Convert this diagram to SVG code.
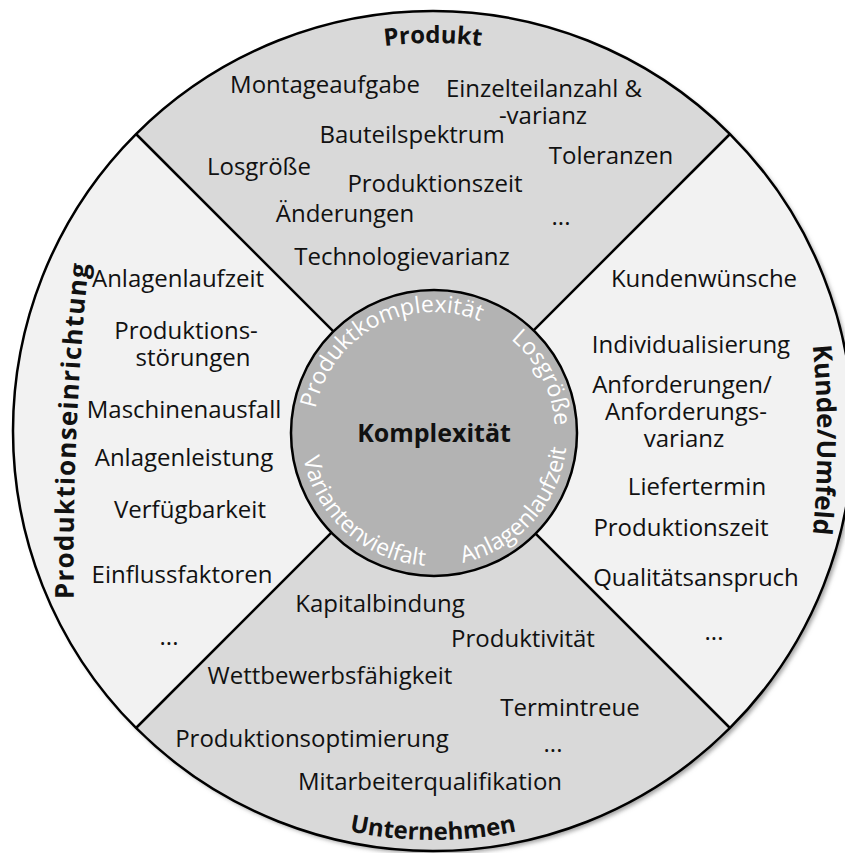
<svg xmlns="http://www.w3.org/2000/svg" width="845" height="853" viewBox="0 0 845 853">
  <style>
    .item { font-family: "Open Sans", "Noto Sans", sans-serif; font-size: 24px; fill: #111; text-anchor: middle; }
    .cat { font-family: "Open Sans", "Noto Sans", sans-serif; font-weight: 700; fill: #111; }
    .hub { font-family: "Open Sans", "Noto Sans", sans-serif; font-size: 23px; fill: #fff; }
    .divider { stroke: #000; stroke-width: 2.5; fill: none; }
  </style>
  <defs>
    <filter id="shadow" x="-5%" y="-5%" width="110%" height="110%">
      <feDropShadow dx="3" dy="3" stdDeviation="2" flood-color="#7a7a7a" flood-opacity="0.7"/>
    </filter>
    <!-- arcs carrying the curved labels -->
    <path id="arcProdukt" d="M238.5,95.1 A389,389 0 0 1 627.5,95.1"/>
    <path id="arcUnternehmen" d="M229,785.3 A408,408 0 0 0 637,785.3"/>
    <path id="arcLeft" d="M74,612 A3000,3000 0 0 1 90,250"/>
    <path id="arcRight" d="M800,255 A1000,1000 0 0 1 800,625"/>
    <path id="arcHub1" d="M318.9,470.4 A121,121 0 0 1 529.3,358.5"/>
    <path id="arcHub2" d="M481.3,321.6 A121,121 0 0 1 551.9,460.2"/>
    <path id="arcHub3" d="M406.3,563.1 A133,133 0 0 0 560.5,391.9"/>
    <path id="arcHub4" d="M303.7,406.5 A133,133 0 0 0 476.2,559.1"/>
  </defs>

  <!-- outer disc -->
  <circle cx="433" cy="431" r="420" fill="#f2f2f2" filter="url(#shadow)"/>

  <g id="produkt">
    <path d="M433,431 L136,134 A420,420 0 0 1 730,134 Z" fill="#d9d9d9"/>
    <text class="cat" font-size="24"><textPath href="#arcProdukt" startOffset="50%" text-anchor="middle">Produkt</textPath></text>
    <text class="item" x="325" y="93">Montageaufgabe</text>
    <text class="item" x="544" y="97">Einzelteilanzahl &amp;</text>
    <text class="item" x="543" y="124">-varianz</text>
    <text class="item" x="412" y="143">Bauteilspektrum</text>
    <text class="item" x="611" y="164">Toleranzen</text>
    <text class="item" x="259" y="175">Losgröße</text>
    <text class="item" x="435" y="192">Produktionszeit</text>
    <text class="item" x="345" y="222">Änderungen</text>
    <text class="item" x="561" y="225">...</text>
    <text class="item" x="402" y="265">Technologievarianz</text>
  </g>

  <g id="unternehmen">
    <path d="M433,431 L730,728 A420,420 0 0 1 136,728 Z" fill="#d9d9d9"/>
    <text class="cat" font-size="24"><textPath href="#arcUnternehmen" startOffset="50%" text-anchor="middle">Unternehmen</textPath></text>
    <text class="item" x="380" y="612">Kapitalbindung</text>
    <text class="item" x="523" y="647">Produktivität</text>
    <text class="item" x="330" y="684">Wettbewerbsfähigkeit</text>
    <text class="item" x="570" y="716">Termintreue</text>
    <text class="item" x="312" y="747">Produktionsoptimierung</text>
    <text class="item" x="553" y="752">...</text>
    <text class="item" x="430" y="790">Mitarbeiterqualifikation</text>
  </g>

  <g id="produktionseinrichtung">
    <text class="cat" font-size="26" letter-spacing="1.2"><textPath href="#arcLeft" startOffset="50%" text-anchor="middle">Produktionseinrichtung</textPath></text>
    <text class="item" x="178" y="287">Anlagenlaufzeit</text>
    <text class="item" x="186" y="339">Produktions-</text>
    <text class="item" x="193" y="366">störungen</text>
    <text class="item" x="184" y="418">Maschinenausfall</text>
    <text class="item" x="184" y="466">Anlagenleistung</text>
    <text class="item" x="190" y="518">Verfügbarkeit</text>
    <text class="item" x="182" y="583">Einflussfaktoren</text>
    <text class="item" x="169" y="645">...</text>
  </g>

  <g id="kunde-umfeld">
    <text class="cat" font-size="26"><textPath href="#arcRight" startOffset="50%" text-anchor="middle">Kunde/Umfeld</textPath></text>
    <text class="item" x="704" y="287">Kundenwünsche</text>
    <text class="item" x="691" y="353">Individualisierung</text>
    <text class="item" x="682" y="393">Anforderungen/</text>
    <text class="item" x="686" y="420">Anforderungs-</text>
    <text class="item" x="684" y="447">varianz</text>
    <text class="item" x="697" y="495">Liefertermin</text>
    <text class="item" x="681" y="536">Produktionszeit</text>
    <text class="item" x="696" y="586">Qualitätsanspruch</text>
    <text class="item" x="714" y="640">...</text>
  </g>

  <!-- quadrant dividers and rim -->
  <g id="connectors">
    <line class="divider" x1="136" y1="134" x2="730" y2="728"/>
    <line class="divider" x1="730" y1="134" x2="136" y2="728"/>
    <circle class="divider" cx="433" cy="431" r="420" stroke-width="3"/>
  </g>

  <g id="komplexitaet">
    <circle cx="434" cy="433" r="143" fill="#b3b3b3" stroke="#000" stroke-width="2.5"/>
    <text class="cat" x="434" y="442" font-size="25" text-anchor="middle">Komplexität</text>
    <text class="hub"><textPath href="#arcHub1" startOffset="50%" text-anchor="middle">Produktkomplexität</textPath></text>
    <text class="hub"><textPath href="#arcHub2" startOffset="50%" text-anchor="middle">Losgröße</textPath></text>
    <text class="hub"><textPath href="#arcHub3" startOffset="50%" text-anchor="middle">Anlagenlaufzeit</textPath></text>
    <text class="hub"><textPath href="#arcHub4" startOffset="50%" text-anchor="middle">Variantenvielfalt</textPath></text>
  </g>
</svg>
